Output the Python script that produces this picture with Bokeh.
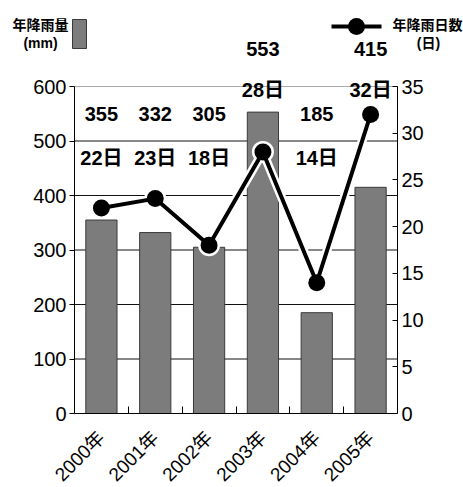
import math
from bokeh.plotting import figure
from bokeh.models import (Range1d, LinearAxis, FixedTicker, ColumnDataSource)
from bokeh.core.properties import value
from bokeh.embed import file_html
from bokeh.resources import INLINE

# ---- data ----
years = ["2000年", "2001年", "2002年", "2003年", "2004年", "2005年"]
rain_mm = [355, 332, 305, 553, 185, 415]
rain_days = [22, 23, 18, 28, 14, 32]
left_ticks = [0, 100, 200, 300, 400, 500, 600]
right_ticks = [0, 5, 10, 15, 20, 25, 30, 35]
legend_bar_text = ["年降雨量", "(mm)"]
legend_line_text = ["年降雨日数", "(日)"]

FONT = "'Liberation Sans', 'Noto Sans CJK JP', sans-serif"

W, H = 463, 487
FRAME_L, FRAME_R = 74, 397       # page px of the axes
Y0_PX, Y600_PX = 413, 86         # page px of 0 and 600
LEFT_MAX, RIGHT_MAX = 600, 35

n = len(years)
xc = [i + 0.5 for i in range(n)]
CW = (FRAME_R - FRAME_L) / n                 # px per category
PPU = (Y0_PX - Y600_PX) / LEFT_MAX           # px per mm
DAY_K = LEFT_MAX / RIGHT_MAX                 # mm per day on the shared scale

def dx(px):   # page px -> x data (for legend / layout only)
    return (px - FRAME_L) / CW

def dy(py):   # page py -> mm data (for legend / layout only)
    return (Y0_PX - py) / PPU

p = figure(width=W, height=H,
           x_range=Range1d(dx(0), dx(W)), y_range=Range1d(dy(H), dy(0)),
           output_backend="svg", toolbar_location=None,
           x_axis_type=None, y_axis_type=None,
           min_border_left=0, min_border_right=0, min_border_top=0, min_border_bottom=0)
p.outline_line_color = None
p.xgrid.visible = False
p.ygrid.visible = False
p.extra_y_ranges = {"days": Range1d(dy(H) / DAY_K, dy(0) / DAY_K)}

# grid lines between the two axes (under the bars)
gl = [t for t in left_ticks if 0 < t < LEFT_MAX]
p.segment(x0=[0] * len(gl), x1=[n] * len(gl), y0=gl, y1=gl, line_color="#111111", line_width=1)
p.segment(x0=[0], x1=[n], y0=[LEFT_MAX], y1=[LEFT_MAX], line_color="#aaaaaa", line_width=1)

# axes at fixed locations
lax = LinearAxis(ticker=FixedTicker(ticks=left_ticks), bounds=(0, LEFT_MAX), fixed_location=0)
lax.major_tick_in = 0
lax.major_tick_out = 5
lax.minor_tick_in = 0
lax.minor_tick_out = 0
lax.major_label_text_font = FONT
lax.major_label_text_font_size = "20px"
lax.major_label_text_color = "black"
lax.major_label_standoff = 3
lax.axis_line_color = "black"
p.add_layout(lax, "left")

rax = LinearAxis(y_range_name="days", ticker=FixedTicker(ticks=right_ticks),
                 bounds=(0, RIGHT_MAX), fixed_location=n)
rax.major_tick_in = 5
rax.major_tick_out = 0
rax.minor_tick_in = 0
rax.minor_tick_out = 0
rax.major_label_text_font = FONT
rax.major_label_text_font_size = "20px"
rax.major_label_text_color = "black"
rax.major_label_standoff = 4
rax.axis_line_color = "black"
p.add_layout(rax, "right")

bax = LinearAxis(ticker=FixedTicker(ticks=xc, minor_ticks=list(range(1, n))),
                 bounds=(0, n), fixed_location=0)
bax.major_label_overrides = {x: y for x, y in zip(xc, years)}
bax.major_tick_in = 0
bax.major_tick_out = 0
bax.minor_tick_in = 7
bax.minor_tick_out = 0
bax.major_label_orientation = math.pi / 4
bax.major_label_text_font = FONT
bax.major_label_text_font_size = "19px"
bax.major_label_text_color = "black"
bax.major_label_standoff = 21
bax.axis_line_color = "black"
p.add_layout(bax, "below")

# bars
src = ColumnDataSource(dict(x=xc, mm=rain_mm, days=rain_days))
p.vbar(x="x", top="mm", width=0.58, source=src, fill_color="#7c7c7c",
       line_color="#3a3a3a", line_width=1)

# line with white halo
p.line(x="x", y="days", source=src, y_range_name="days", line_color="white", line_width=9)
p.scatter(x="x", y="days", source=src, y_range_name="days", size=22, fill_color="white", line_color=None)
p.line(x="x", y="days", source=src, y_range_name="days", line_color="black", line_width=4)
p.scatter(x="x", y="days", source=src, y_range_name="days", size=17, fill_color="black", line_color=None)

# value labels
high = [mm > 500 or d > 30 for mm, d in zip(rain_mm, rain_days)]
VAL_LOW, DAY_LOW, VAL_HIGH, DAY_HIGH = dy(113), dy(157), dy(48), dy(89)
lsrc = ColumnDataSource(dict(
    x=xc,
    vy=[VAL_HIGH if h else VAL_LOW for h in high],
    dy=[DAY_HIGH if h else DAY_LOW for h in high],
    vt=[str(v) for v in rain_mm],
    dt=[f"{d}日" for d in rain_days]))
for ycol, tcol in (("vy", "vt"), ("dy", "dt")):
    p.text(x="x", y=ycol, text=tcol, source=lsrc, text_align="center", text_baseline="middle",
           text_font=value(FONT), text_font_size="20px", text_font_style="bold", text_color="black")

# legend (left: bar)
p.rect(x=[dx(79)], y=[dy(33.5)], width=14 / CW, height=29 / PPU,
       fill_color="#7c7c7c", line_color="#3a3a3a")
p.text(x=[dx(40), dx(40)], y=[dy(24), dy(42)], text=legend_bar_text, text_align="center",
       text_baseline="middle", text_font=value(FONT), text_font_size="14px",
       text_font_style="bold", text_color="black")
# legend (right: line)
p.line(x=[dx(331), dx(381)], y=[dy(26), dy(26)], line_color="black", line_width=4)
p.scatter(x=[dx(356)], y=[dy(26)], size=17, fill_color="black", line_color=None)
p.text(x=[dx(427), dx(428)], y=[dy(24), dy(42)], text=legend_line_text, text_align="center",
       text_baseline="middle", text_font=value(FONT), text_font_size="14px",
       text_font_style="bold", text_color="black")

open("out.html", "w").write(file_html(p, INLINE))
